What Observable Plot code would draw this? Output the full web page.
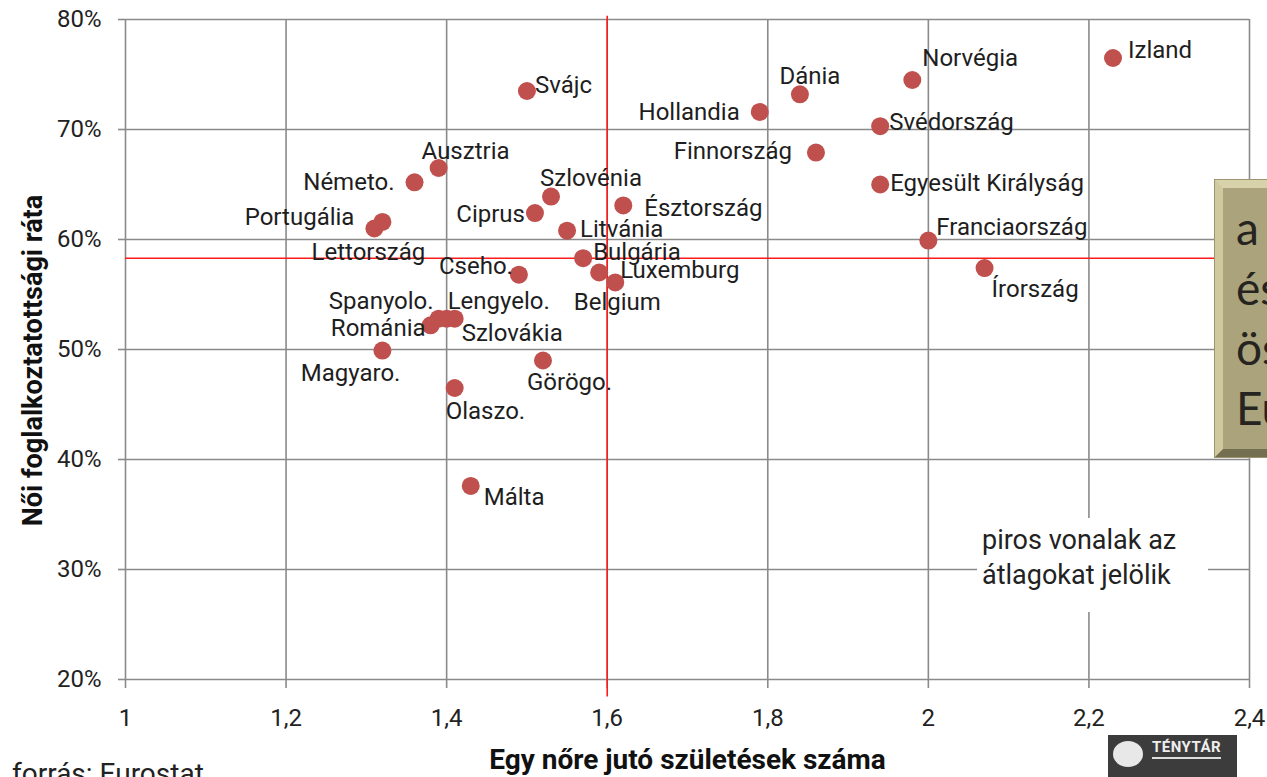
<!DOCTYPE html>
<html>
<head>
<meta charset="utf-8">
<script src="https://cdn.jsdelivr.net/npm/d3@7"></script>
<script src="https://cdn.jsdelivr.net/npm/@observablehq/plot@0.6"></script>
<style>
  html, body { margin: 0; padding: 0; background: #fff; }
  body { width: 1267px; height: 777px; overflow: hidden; position: relative; font-family: Roboto, sans-serif; color: #222; }
  #chart { position: absolute; left: 0; top: 0; }
  .note { position: absolute; left: 977px; top: 518px; width: 231px; height: 94px; background: #fff;
          font-size: 27px; line-height: 35px; padding: 5px 0 0 5px; box-sizing: border-box; color: #222; }
  .source { position: absolute; left: 12px; top: 757px; font-size: 28px; line-height: 33px; color: #222; }
  .box { position: absolute; left: 1215px; top: 180px; width: 260px; height: 277px; box-sizing: border-box;
         background: #aba37b; border: 8px solid; border-color: #d8d2aa #857e5c #746f50 #d0c9a0;
         box-shadow: 0 0 0 1px #9c9570; }
  .box div { font-family: Lato, sans-serif; font-size: 46px; line-height: 60px; color: #262420; padding: 10px 0 0 13px; white-space: pre; }
  .logo { position: absolute; left: 1108px; top: 735px; width: 129px; height: 50px; background: #3c3c3c; }
  .logo .ball { position: absolute; left: 5px; top: 6px; width: 30px; height: 26px; border-radius: 50%; background: #e8e8e8; }
  .logo .name { position: absolute; left: 44px; top: 3px; font-family: Roboto, sans-serif; font-weight: bold; font-size: 15px;
                color: #eee; letter-spacing: 0.5px; border-bottom: 2px solid #ddd; line-height: 19px; }
</style>
</head>
<body>
<div id="chart"></div>
<div class="note">piros vonalak az<br>átlagokat jelölik</div>
<div class="source">forrás: Eurostat</div>
<div class="box"><div>a
és
ös
Eu</div></div>
<div class="logo"><div class="ball"></div><div class="name">TÉNYTÁR</div></div>
<script>
// ---- data ----
const countries = ["Izland","Norvégia","Dánia","Hollandia","Svédország","Finnország","Egyesült Királyság","Franciaország","Írország",
  "Svájc","Ausztria","Németo.","Portugália","Lettország","Szlovénia","Ciprus","Észtország","Litvánia","Bulgária","Cseho.",
  "Luxemburg","Belgium","Spanyolo.","Lengyelo.","Románia","Szlovákia","Magyaro.","Görögo.","Olaszo.","Málta"];
const fertility = [2.23,1.98,1.84,1.79,1.94,1.86,1.94,2.00,2.07,
  1.50,1.39,1.36,1.32,1.31,1.53,1.51,1.62,1.55,1.57,1.49,
  1.59,1.61,1.39,1.40,1.38,1.41,1.32,1.52,1.41,1.43];
const employment = [76.5,74.5,73.2,71.6,70.3,67.9,65.0,59.9,57.4,
  73.5,66.5,65.2,61.6,61.0,63.9,62.4,63.1,60.8,58.3,56.8,
  57.0,56.1,52.8,52.8,52.2,52.8,49.9,49.0,46.5,37.6];
const avgFertility = 1.6;
const avgEmployment = 58.3;
const xTicks = [1, 1.2, 1.4, 1.6, 1.8, 2, 2.2, 2.4];
const yTicks = [20, 30, 40, 50, 60, 70, 80];
const xTitle = "Egy nőre jutó születések száma";
const yTitle = "Női foglalkoztatottsági ráta";

// ---- label layout (anchor, dx, dy) ----
const labelLayout = [
  ["start",15,-8],["start",10,-22],["middle",10,-18],["end",-20,0],["start",9,-4],["end",-24,-1],["start",10,-1],["start",8,-13],["start",7,21],
  ["start",8,-6],["start",-17,-17],["end",-20,0],["end",-28,-5],["middle",-6,24],["middle",40,-18],["end",-10,1],["start",21,3],["start",13,-1],["start",10,-6],["end",-6,-8],
  ["start",21,-2],["middle",2,20],["end",-5,-17],["start",1,-17],["end",-5,3],["start",7,15],["end",18,23],["start",-16,22],["start",-9,23],["start",13,11]
];

const data = countries.map((c, i) => ({country: c, fert: fertility[i], emp: employment[i]}));
const comma = d => String(d).replace(".", ",");

const labelMarks = data.map((d, i) => Plot.text([d], {
  x: "fert", y: "emp", text: "country",
  textAnchor: labelLayout[i][0], dx: labelLayout[i][1], dy: labelLayout[i][2],
  fontSize: 24, fill: "#1e1e1e"
}));

const chart = Plot.plot({
  width: 1267, height: 777,
  marginLeft: 125, marginRight: 18, marginTop: 19, marginBottom: 98,
  style: {fontFamily: "Roboto, sans-serif", fontSize: "24px", color: "#222", background: "transparent", overflow: "visible"},
  x: {domain: [1, 2.4]},
  y: {domain: [20, 80]},
  marks: [
    Plot.gridX(xTicks, {stroke: "#8a8a8a", strokeOpacity: 1, strokeWidth: 1.6}),
    Plot.gridY(yTicks, {stroke: "#8a8a8a", strokeOpacity: 1, strokeWidth: 1.6}),
    Plot.axisX(xTicks, {tickFormat: comma, tickSize: 9, tickPadding: 20, stroke: "#8a8a8a", strokeWidth: 1.6, fontSize: 24, label: null}),
    Plot.axisY(yTicks, {tickFormat: d => d + "%", tickSize: 7, tickPadding: 17, stroke: "#8a8a8a", strokeWidth: 1.6, fontSize: 24, label: null}),
    Plot.ruleX([avgFertility], {y1: 80.3, y2: 18.4, stroke: "#ff1a1a", strokeWidth: 1.6}),
    Plot.ruleY([avgEmployment], {x1: 1, x2: 2.5, stroke: "#ff1a1a", strokeWidth: 1.6}),
    Plot.dot(data, {x: "fert", y: "emp", r: 9, fill: "#c0504d", stroke: "none"}),
    ...labelMarks,
    Plot.text([xTitle], {frameAnchor: "bottom", dy: 81, lineAnchor: "middle", textAnchor: "middle", text: d => d, fontWeight: "bold", fontSize: 28, fill: "#111"}),
    Plot.text([yTitle], {frameAnchor: "left", dx: -92, dy: 11, rotate: -90, lineAnchor: "middle", textAnchor: "middle", text: d => d, fontWeight: "bold", fontSize: 27, fill: "#111"})
  ]
});
document.getElementById("chart").appendChild(chart);
</script>
</body>
</html>
